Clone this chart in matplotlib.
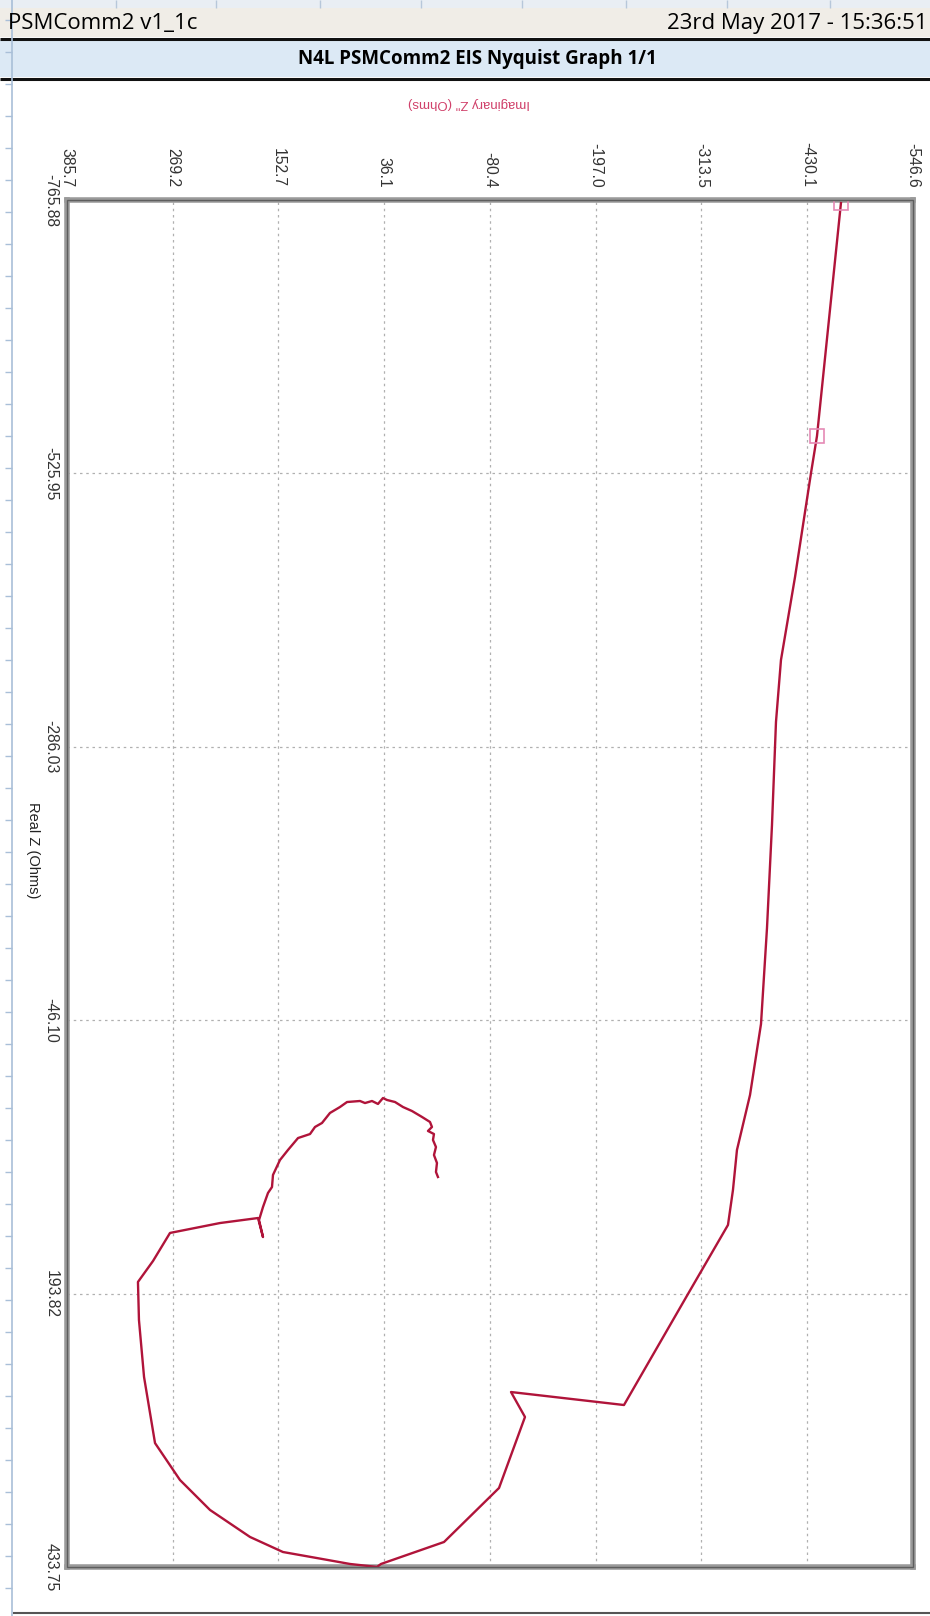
import matplotlib
matplotlib.use("Agg")
import matplotlib.pyplot as plt
from matplotlib.patches import Rectangle
from matplotlib.lines import Line2D

# Datos del grafico Nyquist (Imaginary Z'' en horizontal, Real Z en vertical)
imag_z = [-467.2, -440.8, -434.2, -416.6, -401.1, -395.6, -391.2, -385.7, -379.1, -367.0,
          -352.6, -348.2, -342.7, -298.6, -228.1, -103.6, -119.0, -90.4, -29.8, 39.7,
          44.1, 73.8, 110.2, 147.7, 184.0, 228.1, 261.2, 288.7, 300.8, 306.4,
          307.5, 290.9, 272.2, 217.1, 175.2, 169.7, 174.1, 169.7, 164.2, 159.8,
          158.7, 151.0, 142.2, 131.1, 117.9, 112.4, 104.7, 95.9, 84.9, 77.1,
          62.8, 57.3, 49.6, 43.0, 37.5, 33.1, 24.2, 15.4, 5.5, -5.5,
          -14.3, -16.5, -12.1, -18.7, -17.6, -20.9, -18.7, -22.0, -20.9, -23.1]
real_z = [-763.2, -558.8, -526.3, -435.1, -362.2, -307.8, -217.4, -127.0, -42.8, 19.5,
          67.8, 102.9, 133.6, 194.2, 291.6, 280.2, 302.1, 364.4, 411.8, 431.1,
          433.7, 431.1, 425.9, 420.6, 407.4, 383.7, 357.4, 325.0, 267.0, 217.0,
          183.6, 165.2, 140.6, 131.9, 127.5, 144.2, 129.3, 117.8, 105.5, 100.3,
          89.7, 76.6, 67.8, 57.3, 53.8, 47.6, 44.1, 35.3, 30.1, 25.7,
          24.8, 26.6, 24.8, 27.4, 22.2, 23.9, 25.7, 30.1, 33.6, 38.8,
          43.2, 47.6, 51.1, 53.8, 59.0, 65.2, 72.2, 79.2, 87.1, 91.5]

# Ticks de los ejes
imag_ticks = [385.7, 269.2, 152.7, 36.1, -80.4, -197.0, -313.5, -430.1, -546.6]
imag_labels = ["385.7", "269.2", "152.7", "36.1", "-80.4", "-197.0", "-313.5", "-430.1", "-546.6"]
real_ticks = [-765.88, -525.95, -286.03, -46.10, 193.82, 433.75]
real_labels = ["-765.88", "-525.95", "-286.03", "-46.10", "193.82", "433.75"]

W, H = 930, 1616
fig = plt.figure(figsize=(W / 100, H / 100), dpi=100)


def px(x):
    return x / W


def py(y):
    return 1 - y / H


def banda(y0, y1, color):
    fig.patches.append(Rectangle((0, py(y1)), 1, (y1 - y0) / H, transform=fig.transFigure,
                                 facecolor=color, edgecolor="none", zorder=0))


def linea(x0, y0, x1, y1, color, lw):
    fig.add_artist(Line2D([px(x0), px(x1)], [py(y0), py(y1)], transform=fig.transFigure,
                          color=color, lw=lw, solid_capstyle="butt"))


# --- Cabecera tipo hoja de calculo ---
banda(0, 8, "#e9eef4")
for xs in [116, 216, 320, 421, 522, 626, 727, 830]:
    linea(xs, 0, xs, 8, "#b7c7da", 1)
banda(8, 37, "#f0ede7")
banda(40, 77, "#dce9f5")
linea(0, 38.5, W, 38.5, "#111111", 2.2)
linea(0, 78.5, W, 78.5, "#111111", 2.2)

fig.text(px(8), py(23), "PSMComm2 v1_1c", ha="left", va="center", fontsize=16, family="Open Sans")
fig.text(px(927), py(23), "23rd May 2017 - 15:36:51", ha="right", va="center", fontsize=16, family="Open Sans")
fig.text(px(477), py(59), "N4L PSMComm2 EIS Nyquist Graph 1/1", ha="center", va="center",
         fontsize=13.5, weight="bold", family="Open Sans")

# borde izquierdo y marco exterior
linea(12, 0, 12, H, "#a9bfd8", 1.2)
for yt in range(20, H, 32):
    linea(5, yt, 12, yt, "#a9bfd8", 1)
linea(13, 1613, W, 1613, "#555555", 1.5)

# --- Grafico ---
ax = fig.add_axes([px(67), py(1567), px(913) - px(67), (1567 - 200) / H])
ax.plot(imag_z, real_z, color="#b0143a", lw=1.7, zorder=3)
ax.plot(imag_z[:2], real_z[:2], "s", mfc="none", mec="#e58ab5", ms=10, mew=1.2, zorder=4)

ax.set_xlim(imag_ticks[0], imag_ticks[-1])
ax.set_ylim(real_ticks[-1], real_ticks[0])
ax.set_xticks(imag_ticks)
ax.set_xticklabels(imag_labels, rotation=-90)
ax.set_yticks(real_ticks)
ax.set_yticklabels(real_labels, rotation=-90, va="center")
ax.xaxis.tick_top()
ax.tick_params(axis="x", length=0, pad=9, labelsize=11.3, labelcolor="#333333")
ax.tick_params(axis="y", length=0, pad=6, labelsize=11.3, labelcolor="#333333")
for lab in ax.get_xticklabels() + ax.get_yticklabels():
    lab.set_family("Liberation Sans")

ax.grid(True, linestyle=(0, (2, 3)), color="#b0b0b0", lw=0.9)
for s in ax.spines.values():
    s.set_linewidth(4)
    s.set_color("#9a9a9a")
ax.add_patch(Rectangle((0, 0), 1, 1, transform=ax.transAxes, fill=False,
                       edgecolor="#5e5e5e", lw=1, zorder=5, clip_on=False))

# Etiquetas de los ejes
fig.text(px(469), py(103), 'Imaginary Z" (Ohms)', rotation=180, ha="center", va="center",
         fontsize=9.5, color="#d0406a", family="Liberation Sans")
fig.text(px(33), py(850), "Real Z (Ohms)", rotation=-90, ha="center", va="center",
         fontsize=10.5, color="#222222", family="Liberation Sans")

fig.savefig("out.png", dpi=100)
